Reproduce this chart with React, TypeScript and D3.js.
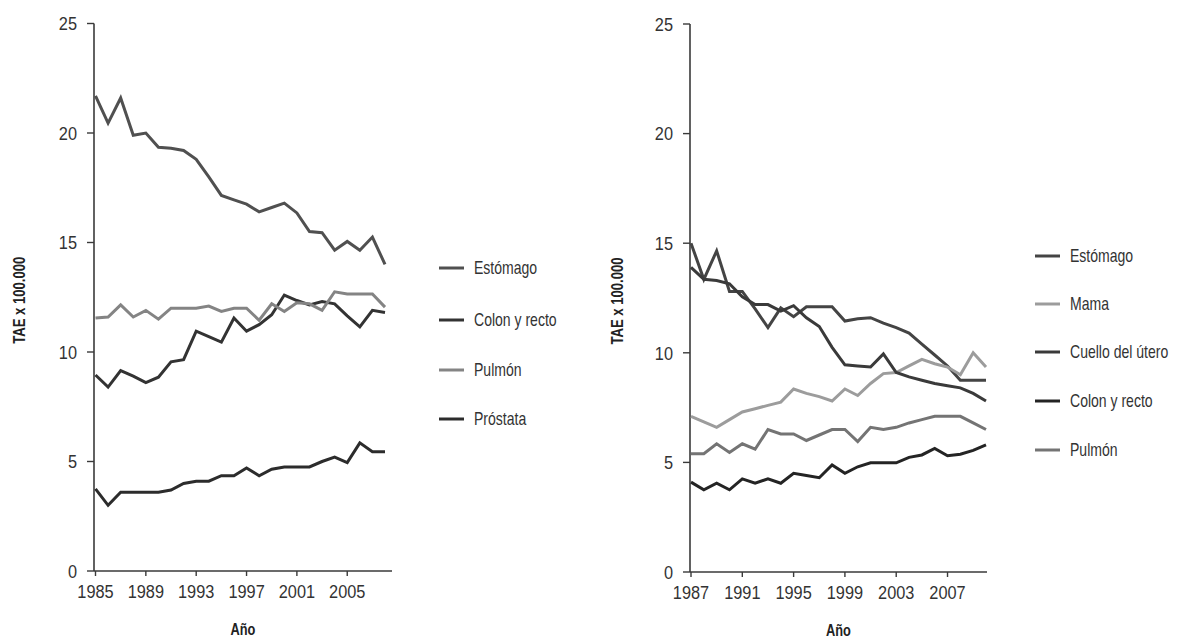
import React from "react";
import * as d3 from "d3";

// ---------- Data ----------
const leftYears = [1985, 1986, 1987, 1988, 1989, 1990, 1991, 1992, 1993, 1994, 1995, 1996, 1997, 1998, 1999, 2000, 2001, 2002, 2003, 2004, 2005, 2006, 2007, 2008];
const leftEstomago = [21.7, 20.45, 21.6, 19.9, 20.0, 19.35, 19.3, 19.2, 18.8, 18.0, 17.15, 16.95, 16.75, 16.4, 16.6, 16.8, 16.35, 15.5, 15.45, 14.65, 15.05, 14.65, 15.25, 14.0];
const leftColon = [8.95, 8.4, 9.15, 8.9, 8.6, 8.85, 9.55, 9.65, 10.95, 10.7, 10.45, 11.55, 10.95, 11.25, 11.7, 12.6, 12.35, 12.15, 12.3, 12.2, 11.65, 11.15, 11.9, 11.8];
const leftPulmon = [11.55, 11.6, 12.15, 11.6, 11.9, 11.5, 12.0, 12.0, 12.0, 12.1, 11.85, 12.0, 12.0, 11.45, 12.2, 11.85, 12.25, 12.2, 11.9, 12.75, 12.65, 12.65, 12.65, 12.05];
const leftProstata = [3.75, 3.0, 3.6, 3.6, 3.6, 3.6, 3.7, 4.0, 4.1, 4.1, 4.35, 4.35, 4.7, 4.35, 4.65, 4.75, 4.75, 4.75, 5.0, 5.2, 4.95, 5.85, 5.45, 5.45];

const rightYears = [1987, 1988, 1989, 1990, 1991, 1992, 1993, 1994, 1995, 1996, 1997, 1998, 1999, 2000, 2001, 2002, 2003, 2004, 2005, 2006, 2007, 2008, 2009, 2010];
const rightEstomago = [15.0, 13.35, 14.65, 12.8, 12.8, 12.0, 11.15, 12.05, 11.65, 12.1, 12.1, 12.1, 11.45, 11.55, 11.6, 11.35, 11.15, 10.9, 10.4, 9.9, 9.4, 8.75, 8.75, 8.75];
const rightMama = [7.1, 6.85, 6.6, 6.95, 7.3, 7.45, 7.6, 7.75, 8.35, 8.15, 8.0, 7.8, 8.35, 8.05, 8.6, 9.05, 9.1, 9.4, 9.7, 9.5, 9.35, 9.0, 10.0, 9.35];
const rightCuello = [13.9, 13.35, 13.3, 13.15, 12.55, 12.2, 12.2, 11.9, 12.15, 11.6, 11.2, 10.25, 9.45, 9.4, 9.35, 9.95, 9.1, 8.9, 8.75, 8.6, 8.5, 8.4, 8.15, 7.8];
const rightColon = [4.1, 3.75, 4.05, 3.75, 4.25, 4.05, 4.25, 4.05, 4.5, 4.4, 4.3, 4.88, 4.5, 4.8, 4.98, 4.98, 4.98, 5.23, 5.34, 5.64, 5.3, 5.37, 5.55, 5.8];
const rightPulmon = [5.4, 5.4, 5.85, 5.45, 5.85, 5.6, 6.5, 6.3, 6.3, 6.0, 6.25, 6.5, 6.5, 5.95, 6.6, 6.5, 6.6, 6.8, 6.95, 7.1, 7.1, 7.1, 6.8, 6.5];

const yTicks = [0, 5, 10, 15, 20, 25];
const leftXTicks = [1985, 1989, 1993, 1997, 2001, 2005];
const rightXTicks = [1987, 1991, 1995, 1999, 2003, 2007];

const leftSeries = [
  { name: "Estómago", values: leftEstomago, color: "#505050" },
  { name: "Colon y recto", values: leftColon, color: "#333333" },
  { name: "Pulmón", values: leftPulmon, color: "#848484" },
  { name: "Próstata", values: leftProstata, color: "#2c2c2c" },
];
const rightSeries = [
  { name: "Estómago", values: rightEstomago, color: "#444444" },
  { name: "Mama", values: rightMama, color: "#9c9c9c" },
  { name: "Cuello del útero", values: rightCuello, color: "#3a3a3a" },
  { name: "Colon y recto", values: rightColon, color: "#242424" },
  { name: "Pulmón", values: rightPulmon, color: "#747474" },
];

const FONT = "'Liberation Sans', Arial, sans-serif";

// Condensed text: horizontal squeeze of a regular sans font
function T({
  x,
  y,
  sx = 0.82,
  rotate = 0,
  anchor = "start",
  size,
  weight = "normal",
  fill = "#333",
  dy,
  children,
}: any) {
  return (
    <text
      transform={`translate(${x},${y}) rotate(${rotate}) scale(${sx},1)`}
      textAnchor={anchor}
      fontFamily={FONT}
      fontSize={size}
      fontWeight={weight}
      fill={fill}
      dy={dy}
    >
      {children}
    </text>
  );
}

type Panel = {
  years: number[];
  series: { name: string; values: number[]; color: string }[];
  xTicks: number[];
  xRange: [number, number];
  yRange: [number, number];
  axisX: number;
  axisEnd: number;
  titleX: number;
  legendX: number;
  legendYs: number[];
};

function ChartPanel({ p }: { p: Panel }) {
  const x = d3.scaleLinear().domain([p.years[0], p.years[p.years.length - 1]]).range(p.xRange);
  const y = d3.scaleLinear().domain([0, 25]).range(p.yRange);
  const line = d3
    .line<number>()
    .x((_, i) => x(p.years[i]))
    .y((d) => y(d));
  const y0 = y(0);
  const axisColor = "#3a3a3a";
  const xCenter = (p.axisX + p.axisEnd) / 2;
  const yCenter = (y(0) + y(25)) / 2 + 3;
  return (
    <g>
      {/* y axis */}
      <line x1={p.axisX} x2={p.axisX} y1={y(25)} y2={y0} stroke={axisColor} strokeWidth={1.6} />
      {yTicks.map((t) => (
        <g key={"y" + t}>
          <line x1={p.axisX - 7} x2={p.axisX} y1={y(t)} y2={y(t)} stroke={axisColor} strokeWidth={1.4} />
          <T x={p.axisX - 17} y={y(t)} dy="0.36em" anchor="end" size={19} sx={0.86}>
            {t}
          </T>
        </g>
      ))}
      {/* x axis */}
      <line x1={p.axisX} x2={p.axisEnd} y1={y0} y2={y0} stroke={axisColor} strokeWidth={1.6} />
      {p.xTicks.map((t) => (
        <g key={"x" + t}>
          <line x1={x(t)} x2={x(t)} y1={y0} y2={y0 + 5} stroke={axisColor} strokeWidth={1.4} />
          <T x={x(t)} y={y0 + 27} anchor="middle" size={19} sx={0.86}>
            {t}
          </T>
        </g>
      ))}
      <T x={xCenter} y={y0 + 64} anchor="middle" size={16} weight="bold" sx={0.8} fill="#222">
        Año
      </T>
      <T x={p.titleX} y={yCenter} rotate={-90} anchor="middle" size={16} weight="bold" sx={0.82} fill="#222">
        TAE x 100.000
      </T>
      {/* lines */}
      {p.series.map((s) => (
        <path
          key={s.name}
          d={line(s.values) || ""}
          fill="none"
          stroke={s.color}
          strokeWidth={3}
          strokeLinejoin="miter"
          strokeMiterlimit={3}
        />
      ))}
      {/* legend */}
      {p.series.map((s, i) => (
        <g key={"lg" + s.name}>
          <line x1={p.legendX} x2={p.legendX + 25} y1={p.legendYs[i]} y2={p.legendYs[i]} stroke={s.color} strokeWidth={3} />
          <T x={p.legendX + 35} y={p.legendYs[i]} dy="0.36em" size={18} sx={0.78}>
            {s.name}
          </T>
        </g>
      ))}
    </g>
  );
}

export default function App() {
  const left: Panel = {
    years: leftYears,
    series: leftSeries,
    xTicks: leftXTicks,
    xRange: [95.5, 385],
    yRange: [571, 23.5],
    axisX: 94,
    axisEnd: 392,
    titleX: 25,
    legendX: 439,
    legendYs: [268, 320, 370, 419],
  };
  const right: Panel = {
    years: rightYears,
    series: rightSeries,
    xTicks: rightXTicks,
    xRange: [691, 986],
    yRange: [572, 24],
    axisX: 690,
    axisEnd: 987,
    titleX: 623,
    legendX: 1035,
    legendYs: [256, 304, 352, 401, 450],
  };
  return (
    <svg
      width={1180}
      height={641}
      style={{ position: "absolute", left: 0, top: 0, background: "#fff" }}
    >
      <rect width={1180} height={641} fill="#fff" />
      <ChartPanel p={left} />
      <ChartPanel p={right} />
    </svg>
  );
}
